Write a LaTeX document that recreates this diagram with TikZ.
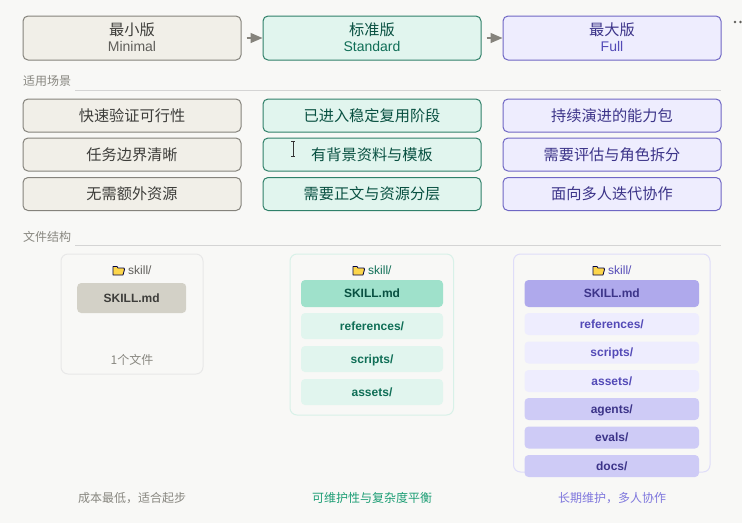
\documentclass[tikz,border=0pt]{standalone}
\usepackage{fontspec}
\usepackage{xcolor}
\usepackage{tikz}
\usetikzlibrary{arrows.meta}
\setmainfont{Liberation Sans}
\newfontfamily\cjk{Noto Sans CJK SC}
\definecolor{paper}{HTML}{F8F8F6}
\definecolor{grayfill}{HTML}{F1EFE8}
\definecolor{grayline}{HTML}{85837C}
\definecolor{graytext}{HTML}{3D3D3A}
\definecolor{graysub}{HTML}{5F5E5A}
\definecolor{graynote}{HTML}{888780}
\definecolor{grayfile}{HTML}{D3D1C7}
\definecolor{tealfill}{HTML}{E1F5EE}
\definecolor{tealline}{HTML}{2F8069}
\definecolor{tealtext}{HTML}{085041}
\definecolor{tealsub}{HTML}{0F6E56}
\definecolor{tealnote}{HTML}{1D9E75}
\definecolor{tealfile}{HTML}{9FE1CB}
\definecolor{tealcard}{HTML}{D8F1E8}
\definecolor{purpfill}{HTML}{EEEDFE}
\definecolor{purpline}{HTML}{6F67C4}
\definecolor{purptext}{HTML}{3C3489}
\definecolor{purpsub}{HTML}{534AB7}
\definecolor{purpnote}{HTML}{7F77DD}
\definecolor{purpfile}{HTML}{AFA9EC}
\definecolor{purpextra}{HTML}{CECBF6}
\definecolor{purpcard}{HTML}{DFDDF9}
\tikzset {
  % every box is placed by its centre, sizes in pixels of the reference
  box/.style = {draw, rounded corners=5pt, line width=1pt, inner sep=0pt, align=center, minimum width=218pt},
  version/.style = {box, minimum height=44pt, font=\fontsize{15.2}{17}\cjk},
  usecase/.style = {box, minimum height=33pt, font=\fontsize{15.2}{17}\cjk},
  graybox/.style = {fill=grayfill, draw=grayline, text=graytext},
  tealbox/.style = {fill=tealfill, draw=tealline, text=tealtext},
  purpbox/.style = {fill=purpfill, draw=purpline, text=purptext},
  % section headings and their rules
  heading/.style = {anchor=west, inner sep=0pt, text=graynote, font=\fontsize{12}{14}\cjk},
  rulers/.style = {draw=black!17, line width=.8pt},
  % file tree
  card/.style = {rounded corners=7pt, line width=1pt, fill=paper, inner sep=0pt},
  file/.style = {rounded corners=4pt, inner sep=0pt, text height=10pt, text depth=2pt, font=\fontsize{12}{14}\selectfont\bfseries},
  folder/.style = {anchor=west, inner sep=0pt, font=\fontsize{12}{14}\selectfont},
  note/.style = {inner sep=0pt, font=\fontsize{12}{14}\cjk},
  flow/.style = {draw=grayline, line width=1.3pt, -{Triangle[length=12pt,width=10pt]}},
}
% small folder glyph, #1 is its left edge
\newcommand{\foldericon}[1]{
  \draw[fill=yellow!60!orange!70, draw=black!75!blue, line width=.8pt, line join=round]
    (#1, 275) -- (#1, 266.5) -- (#1+4, 266.5) -- (#1+5, 268) -- (#1+11, 268) -- (#1+11.5, 269.5) -- (#1+10, 275) -- cycle;
}
% name and subtitle of a version
\newcommand{\vername}[3]{\raisebox{1pt}{#1}\\[-1pt]\raisebox{1pt}{\fontsize{14}{15}\normalfont\color{#3}#2}}
\begin{document}
\begin{tikzpicture}[x=1pt, y=-1pt]
  \useasboundingbox[fill=paper] (0, 0) rectangle (742, 523);

  % versions
  \node[version, graybox] (minimal) at (132, 38) {\vername{最小版}{Minimal}{graysub}};
  \node[version, tealbox] (standard) at (372, 38) {\vername{标准版}{Standard}{tealsub}};
  \node[version, purpbox] (full) at (612, 38) {\vername{最大版}{Full}{purpsub}};

  \draw[flow, shorten <=5pt] (minimal) -- (standard);
  \draw[flow, shorten <=5pt] (standard) -- (full);

  \fill[graysub] (735, 22) circle (1.3);
  \fill[graysub] (740.5, 22) circle (1.3);

  % use cases
  \node[heading] (usehead) at (23, 81.5) {适用场景};
  \coordinate (userule) at (721, 90.5);
  \draw[rulers] (75, 90.5) -- (userule);

  \node[usecase, graybox] (g1) at (132, 115.5) {快速验证可行性};
  \node[usecase, graybox] (g2) at (132, 154.5) {任务边界清晰};
  \node[usecase, graybox] (g3) at (132, 194) {无需额外资源};

  \node[usecase, tealbox] (t1) at (372, 115.5) {已进入稳定复用阶段};
  \node[usecase, tealbox] (t2) at (372, 154.5) {有背景资料与模板};
  \node[usecase, tealbox] (t3) at (372, 194) {需要正文与资源分层};

  \node[usecase, purpbox] (p1) at (612, 115.5) {持续演进的能力包};
  \node[usecase, purpbox] (p2) at (612, 154.5) {需要评估与角色拆分};
  \node[usecase, purpbox] (p3) at (612, 194) {面向多人迭代协作};

  % text cursor
  \draw[black!80, line width=.7pt] (293, 142) -- (293, 156) (291, 141.5) -- (295, 141.5) (291, 156.5) -- (295, 156.5);

  % file structure
  \node[heading] (treehead) at (23, 237) {文件结构};
  \coordinate (treerule) at (721, 245.5);
  \draw[rulers] (75, 245.5) -- (treerule);

  \draw[card, draw=black!9] (61, 254) rectangle (203, 374);
  \draw[card, draw=tealcard] (290, 254) rectangle (453.5, 415);
  \draw[card, draw=purpcard] (513.5, 254) rectangle (710, 472);

  \foldericon{113}
  \node[folder, text=graysub] (gfolder) at (128, 270.5) {skill/};
  \node[file, fill=grayfile, text=graytext, minimum width=109pt, minimum height=30pt] (gskill) at (131.7, 298) {SKILL.md};
  \node[note, text=graynote] (gcount) at (132, 360) {1个文件};

  \foldericon{353}
  \node[folder, text=tealsub] (tfolder) at (368, 270.5) {skill/};
  \node[file, fill=tealfile, text=tealtext, minimum width=142pt, minimum height=27pt] (tskill) at (372, 293.5) {SKILL.md};
  \node[file, fill=tealfill, text=tealsub, minimum width=142pt, minimum height=26pt] (trefs) at (372, 326) {references/};
  \node[file, fill=tealfill, text=tealsub, minimum width=142pt, minimum height=26pt] (tscripts) at (372, 359) {scripts/};
  \node[file, fill=tealfill, text=tealsub, minimum width=142pt, minimum height=26pt] (tassets) at (372, 392) {assets/};

  \foldericon{593}
  \node[folder, text=purpsub] (pfolder) at (608, 270.5) {skill/};
  \node[file, fill=purpfile, text=purptext, minimum width=174.5pt, minimum height=27pt] (pskill) at (611.8, 293.5) {SKILL.md};
  \node[file, fill=purpfill, text=purpsub, minimum width=174.5pt, minimum height=22pt] (prefs) at (611.8, 324) {references/};
  \node[file, fill=purpfill, text=purpsub, minimum width=174.5pt, minimum height=22pt] (pscripts) at (611.8, 352.5) {scripts/};
  \node[file, fill=purpfill, text=purpsub, minimum width=174.5pt, minimum height=22pt] (passets) at (611.8, 381) {assets/};
  \node[file, fill=purpextra, text=purptext, minimum width=174.5pt, minimum height=22pt] (pagents) at (611.8, 409) {agents/};
  \node[file, fill=purpextra, text=purptext, minimum width=174.5pt, minimum height=22pt] (pevals) at (611.8, 437.5) {evals/};
  \node[file, fill=purpextra, text=purptext, minimum width=174.5pt, minimum height=22pt] (pdocs) at (611.8, 466) {docs/};

  % captions
  \node[note, text=graynote] (gnote) at (132, 498) {成本最低，适合起步};
  \node[note, text=tealnote] (tnote) at (372, 498) {可维护性与复杂度平衡};
  \node[note, text=purpnote] (pnote) at (612, 498) {长期维护，多人协作};
\end{tikzpicture}
\end{document}
